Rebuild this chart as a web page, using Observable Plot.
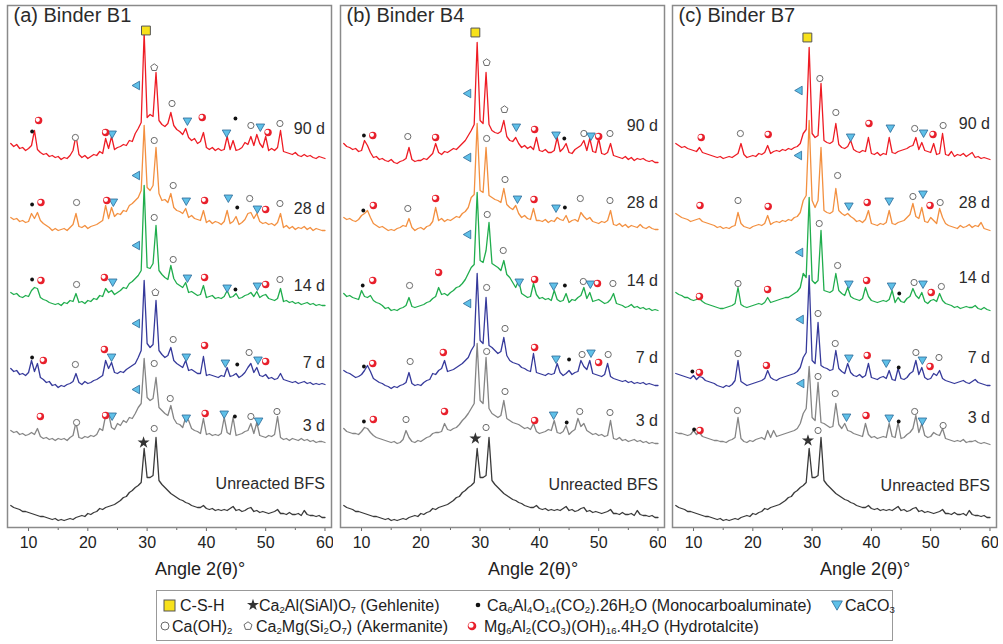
<!DOCTYPE html>
<html><head><meta charset="utf-8">
<script src="https://cdn.jsdelivr.net/npm/d3@7"></script>
<script src="https://cdn.jsdelivr.net/npm/@observablehq/plot@0.6"></script>
<style>
body{margin:0;background:#fff;font-family:"Liberation Sans",Arial,sans-serif;color:#222}
#wrap{position:relative;width:1003px;height:644px;overflow:hidden;background:#fff}
.panel{position:absolute;top:0}
.xt{position:absolute;top:559px;font-size:18px;color:#222;white-space:nowrap;transform:translateX(-50%)}
#legend{position:absolute;left:156px;top:590px;width:737px;height:51px;border:1px solid #999;box-sizing:border-box}
.li{position:absolute;font-size:16px;white-space:nowrap;line-height:16px;color:#222}
sub{font-size:0.6em;vertical-align:-0.2em;line-height:0}
</style></head>
<body><div id="wrap"><div id="legend"></div></div>
<script>
// ---- data ----
const angleStart = 7, angleStep = 0.5;   // 2θ sampling of the digitised patterns (7° … 60°)
const ages = ["Unreacted BFS", "3 d", "7 d", "14 d", "28 d", "90 d"];
const ageColors = ["#3a3a3a", "#858585", "#363a9b", "#20ad4d", "#f39040", "#ee1c24"];
const xTicks = [10, 20, 30, 40, 50, 60];
const xMinorTicks = [15, 25, 35, 45, 55];
const labelAngle = 60;

const unreactedBFS = [12,10,9,8,6,6,5,4,3,2, 1,1,0,-1,-2,-1,-3,-2,-3,-2, -1,-2,0,1,2,1,4,3,5,6, 9,8,10,11,12,13,15,17,20,21, 25,27,30,32,35,69,40,40,42,80, 37,33,30,27,24,22,20,18,17,15, 14,12,11,10,10,12,9,8,9,7, 8,7,8,7,9,11,7,8,6,7, 9,10,6,7,5,6,5,4,5,6, 8,4,4,3,5,3,3,4,2,7, 3,2,2,1,2,0,0];

// Binder B1
const b1_3d = [12,10,11,8,9,7,8,10,8,14, 6,4,5,3,4,2,4,3,4,2, 5,7,20,5,4,6,5,7,6,8, 14,12,27,29,15,13,19,17,22,20, 25,24,29,35,39,84,45,42,44,65, 35,32,29,27,37,24,19,18,15,25, 22,14,12,11,9,24,8,9,7,8, 7,9,25,10,8,25,7,8,9,11, 12,19,9,20,7,6,5,7,6,8, 26,5,3,4,2,4,3,2,4,2, 3,1,2,0,1,1,0];
const b1_7d = [16,13,14,10,11,9,12,24,13,21, 7,5,2,3,-1,0,-3,-1,-2,0, 1,3,11,2,0,3,1,2,4,5, 7,9,24,16,22,12,11,13,12,15, 17,19,21,27,34,104,41,37,40,84, 34,30,27,29,37,24,21,19,17,24, 14,15,13,11,11,28,9,10,9,8, 7,9,8,17,8,9,11,7,9,12, 17,21,12,17,9,8,10,6,7,5, 6,11,5,4,3,2,3,1,2,3, 1,2,0,1,0,1,0];
const b1_14d = [13,11,12,9,8,10,9,15,18,17, 8,6,5,3,2,1,2,0,3,2, 5,4,12,3,4,2,5,4,7,6, 10,9,17,13,15,11,13,15,18,17, 22,24,27,30,35,120,38,37,42,80, 35,31,28,26,40,27,22,20,18,23, 13,14,12,10,11,20,8,9,10,7, 8,7,9,15,8,9,12,7,8,10, 11,13,9,14,8,10,11,7,6,5, 7,17,4,5,3,4,2,3,1,2, 3,1,2,0,1,0,0];
const b1_28d = [13,11,12,9,10,8,9,17,12,18, 10,7,5,3,0,2,0,1,2,0, 3,6,17,4,3,5,2,4,5,6, 8,10,25,12,23,14,17,16,20,19, 25,27,30,33,40,105,43,40,45,83, 37,30,31,28,37,23,20,19,17,22, 13,15,12,11,10,20,8,10,7,9, 8,6,9,20,7,9,14,6,8,11, 17,18,12,17,9,7,8,6,7,5, 8,17,3,5,2,4,1,3,2,4, 1,3,0,2,1,0,0];
const b1_90d = [15,12,14,10,11,8,10,13,28,9, 6,4,5,2,3,1,2,-1,1,0, 3,8,23,4,1,3,0,2,4,3, 7,5,20,10,22,9,11,12,14,13, 18,17,25,30,36,126,41,44,42,86, 38,34,32,35,46,33,29,27,24,30, 21,18,20,15,17,26,11,9,11,8, 10,8,9,22,9,18,8,9,11,16, 14,22,13,24,15,11,22,8,10,8, 11,28,7,6,5,4,6,3,2,4, 2,3,1,0,2,1,0];
const offsetsB1 = [10, 85, 143, 222, 297, 369];
const labelHeightsB1 = [44, 102, 165, 242, 319, 399];
const markersB1 = [
  [29.8,497,"csh"],
  [28.3,442,"ccl"],[31.2,460,"ak"],[34.2,424,"ch"],[11.7,407,"ht"],[10.6,396,"mc"],[17.9,390,"ch"],[23.0,395,"ht"],[24.1,394,"cc"],[36.8,407,"cc"],[39.3,410,"ht"],[43.4,395,"cc"],[44.9,409,"mc"],[47.5,402,"ch"],[49.1,401,"cc"],[50.4,395,"ht"],[52.4,404,"ch"],
  [28.3,352,"ccl"],[31.2,387,"ch"],[34.4,342,"ch"],[10.6,323,"mc"],[12.1,325,"ht"],[18.1,325,"ch"],[23.2,327,"ht"],[24.3,326,"cc"],[36.6,327,"cc"],[39.7,327,"ht"],[43.7,330,"cc"],[45.2,320,"mc"],[47.3,329,"ch"],[48.6,319,"cc"],[50.0,318,"ht"],[52.4,324,"ch"],
  [28.3,282,"ccl"],[31.2,310,"ch"],[34.4,268,"ch"],[10.6,248,"mc"],[12.1,247,"ht"],[18.1,243,"ch"],[22.8,250,"ht"],[24.2,246,"cc"],[36.8,250,"cc"],[39.7,250,"ht"],[43.5,240,"cc"],[44.9,238,"mc"],[48.6,242,"cc"],[50.0,243,"ht"],[52.4,248,"ch"],
  [28.3,204,"ccl"],[31.4,235,"ak"],[34.4,188,"ch"],[10.6,170,"mc"],[12.5,167,"ht"],[17.9,163,"ch"],[22.8,178,"ht"],[24.0,171,"cc"],[36.6,171,"cc"],[39.7,182,"ht"],[43.2,165,"cc"],[45.2,163,"mc"],[47.2,175,"ch"],[48.7,168,"cc"],[50.0,166,"ht"],
  [28.3,138,"ccl"],[31.2,164,"ch"],[33.9,129,"ch"],[12.0,111,"ht"],[18.1,105,"ch"],[23.0,112,"ht"],[24.1,112,"cc"],[36.6,110,"cc"],[39.8,114,"ht"],[43.0,114,"cc"],[44.8,111,"mc"],[47.5,111,"ch"],[48.8,107,"cc"],[51.9,116,"ch"],
  [29.4,85,"ge"],[31.2,99,"ch"]
];

// Binder B4
const b4_3d = [15,12,11,10,10,9,12,16,15,11, 8,6,5,4,3,2,1,2,0,1, 4,13,6,2,1,3,2,4,6,7, 10,11,11,12,20,14,13,15,16,19, 23,26,30,35,40,100,43,40,86,35, 30,28,26,28,43,25,23,21,20,19, 17,15,16,14,20,12,10,11,12,14, 13,23,11,10,12,18,9,12,14,25, 17,20,13,11,9,10,8,9,7,8, 23,5,4,6,3,4,2,3,4,2, 3,1,2,0,1,0,0];
const b4_7d = [15,13,12,10,8,9,11,15,20,14, 7,5,3,2,0,-1,-3,-1,-2,0, 1,3,13,2,0,1,0,3,5,6, 12,11,15,17,25,14,15,16,18,20, 22,25,28,35,40,112,45,42,88,40, 38,35,32,34,48,30,25,23,22,21, 18,17,15,14,32,13,12,11,10,12, 11,12,22,13,10,12,15,11,13,14, 25,19,16,25,12,11,10,9,11,22, 9,7,6,5,4,5,3,4,2,3, 2,3,1,2,1,0,0];
const b4_14d = [17,14,15,13,12,11,20,14,13,15, 10,8,7,5,2,3,0,1,0,2, 3,5,13,4,3,4,5,6,8,9, 12,14,23,16,17,15,18,20,23,24, 27,31,37,43,46,118,50,48,60,88, 47,45,43,40,50,36,33,28,23,30, 17,15,13,14,27,16,12,13,11,12, 10,20,11,9,10,17,8,11,10,13, 15,23,12,18,9,10,11,9,7,8, 11,17,7,6,5,3,4,6,3,4, 2,3,1,2,0,1,0];
const b4_28d = [12,10,11,9,8,10,14,16,19,12, 6,4,2,3,1,-1,0,-1,1,2, 4,3,11,2,-1,1,2,0,3,4, 8,22,9,11,8,10,9,11,13,12, 16,18,22,32,35,106,39,37,82,34, 32,30,29,27,41,25,22,20,24,16, 12,14,11,10,21,9,9,8,10,7, 9,8,12,10,9,14,7,9,10,8, 17,13,10,12,8,7,6,8,7,9, 19,5,4,6,3,5,2,4,3,2, 5,2,1,3,1,0,0];
const b4_90d = [19,16,15,13,14,11,12,22,17,10, 5,6,3,4,2,1,3,0,-1,1, 2,4,15,3,1,2,2,4,3,6, 9,19,10,8,11,10,12,14,13,16, 19,22,27,32,38,120,42,39,90,38, 32,30,29,31,42,26,22,21,25,19, 15,17,14,16,13,25,12,11,13,10, 10,12,25,11,14,19,10,9,13,15, 17,22,12,24,11,10,24,9,8,10, 19,7,6,5,4,6,3,5,2,4, 3,4,2,1,2,0,0];
const offsetsB4 = [10, 84, 142, 217, 298, 365];
const labelHeightsB4 = [43, 107, 170, 247, 325, 402];
const markersB4 = [
  [29.2,495,"csh"],
  [28.0,434,"ccl"],[31.1,465,"ak"],[34.1,418,"ak"],[10.4,392,"mc"],[11.9,392,"ht"],[17.8,391,"ch"],[22.5,390,"ht"],[36.1,401,"cc"],[39.2,398,"ht"],[42.8,393,"cc"],[44.2,389,"mc"],[47.5,394,"ch"],[48.7,392,"cc"],[50.0,391,"ht"],[51.9,394,"ch"],
  [28.0,370,"ccl"],[31.1,389,"ch"],[34.2,348,"ch"],[10.3,317,"mc"],[12.0,322,"ht"],[17.8,319,"ch"],[22.5,329,"ht"],[36.3,329,"cc"],[39.1,328,"ht"],[42.8,320,"cc"],[44.3,320,"mc"],[46.9,329,"ch"],[51.9,327,"ch"],
  [28.0,293,"ccl"],[31.2,313,"ch"],[33.9,277,"ch"],[10.2,242,"mc"],[11.9,247,"ht"],[18.1,242,"ch"],[23.0,255,"ht"],[36.6,246,"cc"],[39.2,248,"ht"],[42.4,242,"cc"],[44.3,242,"mc"],[47.4,246,"ch"],[48.6,244,"cc"],[49.8,244,"ht"],[52.4,244,"ch"],
  [28.0,224,"ccl"],[31.1,240,"ch"],[34.2,199,"ch"],[10.4,161,"mc"],[11.9,164,"ht"],[18.2,166,"ch"],[23.8,175,"ht"],[39.2,180,"ht"],[42.8,169,"cc"],[45.0,168,"mc"],[47.2,173,"ch"],[48.7,175,"cc"],[50.0,165,"ht"],[51.6,173,"ch"],
  [31.1,176,"ch"],[34.2,136,"ch"],[10.4,106,"mc"],[12.0,108,"ht"],[17.5,108,"ch"],[24.0,116,"ht"],[39.2,107,"ht"],[42.4,113,"cc"],[44.6,105,"mc"],[46.8,116,"ch"],[51.9,115,"ch"],
  [29.2,89,"ge"],[31.0,100,"ch"]
];

// Binder B7
const b7_3d = [12,11,11,10,9,10,14,10,12,8, 7,6,5,4,4,3,3,2,4,5, 7,27,6,3,2,4,3,5,6,7, 5,14,7,14,8,9,10,11,12,13, 14,16,21,31,36,78,27,24,62,22, 21,19,17,18,41,20,16,21,14,13, 11,10,9,8,21,10,7,8,6,7, 8,7,21,8,7,22,6,7,10,12, 16,29,12,21,9,7,8,12,10,9, 16,6,5,4,3,4,3,5,2,3, 3,4,2,1,2,1,0];
const b7_7d = [12,11,10,9,8,7,10,6,9,8, 5,4,3,2,0,-1,-2,0,-1,1, 5,25,4,2,0,1,2,3,4,5, 7,15,8,6,5,7,8,9,10,11, 12,14,18,28,33,110,25,22,63,20, 18,17,15,16,35,17,14,12,22,13, 10,9,11,8,10,22,8,7,6,8, 9,7,15,6,5,17,7,6,8,12, 14,25,11,18,8,6,7,12,10,15, 7,5,4,3,2,3,4,5,3,2, 4,6,3,2,1,0,0];
const b7_14d = [18,16,15,13,13,11,10,11,12,9, 7,6,5,4,3,2,2,3,4,5, 7,23,6,4,3,4,5,6,7,6, 8,13,8,9,10,11,12,13,13,15, 17,19,23,37,33,113,30,27,30,80, 20,19,18,20,37,20,17,15,23,14, 12,11,10,12,23,14,10,9,8,9, 10,9,11,20,8,13,9,8,12,14, 22,15,12,18,9,7,10,11,9,17, 10,7,6,5,3,4,2,3,4,3, 3,5,2,1,3,1,0];
const b7_28d = [17,15,13,12,11,9,10,11,12,9, 8,7,6,5,3,4,2,3,2,4, 5,18,7,4,3,2,4,5,6,5, 7,15,6,8,9,8,10,9,11,10, 13,14,18,30,35,110,30,23,30,83, 20,18,17,19,42,20,17,15,17,14, 12,9,10,8,11,20,7,6,5,7, 6,8,20,7,6,8,9,10,13,16, 27,14,12,23,9,8,13,10,7,22, 13,7,5,4,3,2,5,3,4,6, 3,5,4,8,2,1,0];
const b7_90d = [16,14,12,13,11,10,9,8,12,7, 6,5,4,3,2,3,1,2,3,2, 4,6,16,5,2,3,4,3,6,5, 7,14,6,8,9,8,10,9,11,10, 12,13,16,26,30,112,26,22,24,76, 19,17,16,18,36,15,12,11,13,19, 10,8,7,9,8,22,6,5,7,4, 6,5,22,7,6,8,9,10,11,13, 14,22,10,17,9,8,7,16,5,6, 26,5,4,8,3,5,4,6,3,5, 7,2,3,1,2,1,0];
const offsetsB7 = [10, 83, 142, 217, 297, 368];
const labelHeightsB7 = [42, 110, 170, 250, 325, 404];
const markersB7 = [
  [29.2,490,"csh"],
  [27.9,437,"ccl"],[31.3,449,"ch"],[34.0,415,"ch"],[11.3,390,"ht"],[17.9,394,"ch"],[22.6,393,"ht"],[36.5,391,"cc"],[39.6,404,"ht"],[43.2,400,"cc"],[47.3,399,"ch"],[48.8,395,"cc"],[50.4,393,"ht"],[52.1,402,"ch"],
  [27.8,372,"ccl"],[34.3,352,"ch"],[11.1,322,"ht"],[17.5,327,"ch"],[22.6,321,"ht"],[36.2,322,"cc"],[39.3,325,"ht"],[43.0,327,"cc"],[47.0,331,"ch"],[48.7,334,"cc"],[49.9,322,"ht"],[51.6,325,"ch"],
  [28.0,275,"ccl"],[31.2,304,"ch"],[34.3,262,"ch"],[11.0,231,"ht"],[17.5,244,"ch"],[22.5,238,"ht"],[36.2,244,"cc"],[39.2,247,"ht"],[43.4,242,"cc"],[44.7,234,"mc"],[47.2,245,"ch"],[48.7,244,"cc"],[50.1,235,"ht"],[51.8,241,"ch"],
  [28.1,208,"ccl"],[31.0,214,"ch"],[33.9,184,"ch"],[9.8,156,"mc"],[11.0,155,"ht"],[17.5,174,"ch"],[22.3,162,"ht"],[36.2,170,"cc"],[39.3,172,"ht"],[42.5,165,"cc"],[44.6,160,"mc"],[47.5,175,"ch"],[48.6,168,"cc"],[49.9,161,"ht"],[51.4,170,"ch"],
  [28.2,144,"ccl"],[31.0,151,"ch"],[33.9,134,"ch"],[10.1,98,"mc"],[11.1,97,"ht"],[17.4,117,"ch"],[35.8,111,"cc"],[39.1,112,"ht"],[43.0,110,"cc"],[44.6,106,"mc"],[47.3,116,"ch"],[48.6,107,"cc"],[52.1,102,"ch"],
  [29.3,87,"ge"],[31.0,97,"ch"]
];

const panels = [
  {title: "(a) Binder B1", traces: [unreactedBFS, b1_3d, b1_7d, b1_14d, b1_28d, b1_90d], offsets: offsetsB1, labels: labelHeightsB1, markers: markersB1},
  {title: "(b) Binder B4", traces: [unreactedBFS, b4_3d, b4_7d, b4_14d, b4_28d, b4_90d], offsets: offsetsB4, labels: labelHeightsB4, markers: markersB4},
  {title: "(c) Binder B7", traces: [unreactedBFS, b7_3d, b7_7d, b7_14d, b7_28d, b7_90d], offsets: offsetsB7, labels: labelHeightsB7, markers: markersB7}
];

// ---- custom symbols ----
const pentagon = {draw(ctx, size) {
  const r = Math.sqrt(size / 2.378);
  for (let k = 0; k < 5; k++) { const a = -Math.PI / 2 + k * 2 * Math.PI / 5; const x = r * Math.cos(a), y = r * Math.sin(a); k ? ctx.lineTo(x, y) : ctx.moveTo(x, y); }
  ctx.closePath();
}};
const triDown = {draw(ctx, size) {
  const s = Math.sqrt(size / 0.433), h = s * Math.sqrt(3) / 2;
  ctx.moveTo(-s / 2, -h / 3); ctx.lineTo(s / 2, -h / 3); ctx.lineTo(0, 2 * h / 3); ctx.closePath();
}};
const triLeft = {draw(ctx, size) {
  const s = Math.sqrt(size / 0.433), h = s * Math.sqrt(3) / 2;
  ctx.moveTo(-2 * h / 3, 0); ctx.lineTo(h / 3, -s / 2); ctx.lineTo(h / 3, s / 2); ctx.closePath();
}};

// ---- panels ----
const wrap = document.getElementById("wrap");
const panelLefts = [0, 333, 665];
const W = 333, H = 585;
panels.forEach((p, k) => {
  const marks = [];
  for (let i = p.traces.length - 1; i >= 0; i--) {
    const pts = p.traces[i].map((v, j) => ({angle: angleStart + j * angleStep, h: v + p.offsets[i]}));
    marks.push(Plot.line(pts, {x: "angle", y: "h", stroke: ageColors[i], strokeWidth: 1.3}));
  }
  const M = (t) => p.markers.filter(m => m[2] === t);
  const X = d => d[0], Y = d => d[1];
  marks.push(
    Plot.dot(M("ch"), {x: X, y: Y, r: 3.1, fill: "white", stroke: "#6a6a6a", strokeWidth: 1}),
    Plot.dot(M("ak"), {x: X, y: Y, r: 3.2, symbol: pentagon, fill: "white", stroke: "#6a6a6a", strokeWidth: 1}),
    Plot.dot(M("mc"), {x: X, y: Y, r: 1.9, fill: "#111"}),
    Plot.dot(M("ge"), {x: X, y: Y, r: 3.8, symbol: "star", fill: "#333"}),
    Plot.dot(M("cc"), {x: X, y: Y, r: 3.2, symbol: triDown, fill: "#5fc0e8", stroke: "#2c6a98", strokeWidth: 0.8}),
    Plot.dot(M("ccl"), {x: X, y: Y, r: 3.2, symbol: triLeft, fill: "#5fc0e8", stroke: "#2c6a98", strokeWidth: 0.8}),
    Plot.dot(M("ht"), {x: X, y: Y, r: 3.7, fill: "#e8202c"}),
    Plot.dot(M("ht"), {x: X, y: Y, r: 2.1, fill: "white", dx: -0.9, dy: -0.7}),
    Plot.dot(M("csh"), {x: X, y: Y, r: 5, symbol: "square", fill: "#f7e11b", stroke: "#555", strokeWidth: 1}),
    Plot.text(ages.map((a, i) => ({text: a, h: p.labels[i]})), {x: () => labelAngle, y: "h", text: "text", textAnchor: "end", fontSize: 16, fill: "#2b2b2b"}),
    Plot.text([p.title], {frameAnchor: "top-left", dx: 6, dy: 2, fontSize: 20, textAnchor: "start", lineAnchor: "top", fill: "#2b2b2b"}),
    Plot.axisX(xTicks, {tickSize: 4, tickPadding: 5, fontSize: 16, color: "#222", stroke: "#666"}),
    Plot.axisX(xMinorTicks, {tickSize: 3, tickFormat: () => "", stroke: "#666"}),
    Plot.frame({stroke: "#8a8a8a", strokeWidth: 1.5})
  );
  const chart = Plot.plot({
    width: W, height: H,
    marginLeft: 7, marginRight: 2, marginTop: 5, marginBottom: H - 527,
    x: {domain: [6.45, 61.1], label: null},
    y: {domain: [0, 522], axis: null},
    style: {fontFamily: "'Liberation Sans', Arial, sans-serif", fontSize: "16px", color: "#222", background: "transparent"},
    marks
  });
  const div = document.createElement("div");
  div.className = "panel";
  div.style.left = panelLefts[k] + "px";
  div.appendChild(chart);
  wrap.appendChild(div);
  const xt = document.createElement("div");
  xt.className = "xt";
  xt.style.left = (panelLefts[k] + 200) + "px";
  xt.textContent = "Angle 2(θ)°";
  wrap.appendChild(xt);
});

// ---- legend ----
const legend = document.getElementById("legend");
legend.innerHTML = `
<div class="li" style="left:23px;top:7px">C-S-H</div>
<div class="li" style="left:102px;top:7px">Ca<sub>2</sub>Al(SiAl)O<sub>7</sub> (Gehlenite)</div>
<div class="li" style="left:330px;top:7px">Ca<sub>6</sub>Al<sub>4</sub>O<sub>14</sub>(CO<sub>2</sub>).26H<sub>2</sub>O (Monocarboaluminate)</div>
<div class="li" style="left:688px;top:7px">CaCO<sub>3</sub></div>
<div class="li" style="left:15px;top:28px">Ca(OH)<sub>2</sub></div>
<div class="li" style="left:99px;top:28px">Ca<sub>2</sub>Mg(Si<sub>2</sub>O<sub>7</sub>) (Akermanite)</div>
<div class="li" style="left:327px;top:28px">Mg<sub>6</sub>Al<sub>2</sub>(CO<sub>3</sub>)(OH)<sub>16</sub>.4H<sub>2</sub>O (Hydrotalcite)</div>`;
const lg = d3.select(legend).append("svg").attr("width", 737).attr("height", 51)
  .style("position", "absolute").style("left", "-1px").style("top", "-1px");
lg.append("rect").attr("x", 8).attr("y", 10).attr("width", 11).attr("height", 11).attr("fill", "#f7e11b").attr("stroke", "#555");
lg.append("path").attr("d", d3.symbol(d3.symbolStar, 45)()).attr("transform", "translate(97,15)").attr("fill", "#333");
lg.append("circle").attr("cx", 322).attr("cy", 15).attr("r", 2.3).attr("fill", "#111");
lg.append("path").attr("d", d3.symbol(triDown, 50)()).attr("transform", "translate(681,14)").attr("fill", "#5fc0e8").attr("stroke", "#2c6a98").attr("stroke-width", 0.8);
lg.append("circle").attr("cx", 9).attr("cy", 36).attr("r", 4).attr("fill", "white").attr("stroke", "#6a6a6a");
lg.append("path").attr("d", d3.symbol(pentagon, 42)()).attr("transform", "translate(92,36)").attr("fill", "white").attr("stroke", "#6a6a6a");
lg.append("circle").attr("cx", 316).attr("cy", 36).attr("r", 4.3).attr("fill", "#e8202c");
lg.append("circle").attr("cx", 315).attr("cy", 35.2).attr("r", 2.5).attr("fill", "white");
</script></body></html>
